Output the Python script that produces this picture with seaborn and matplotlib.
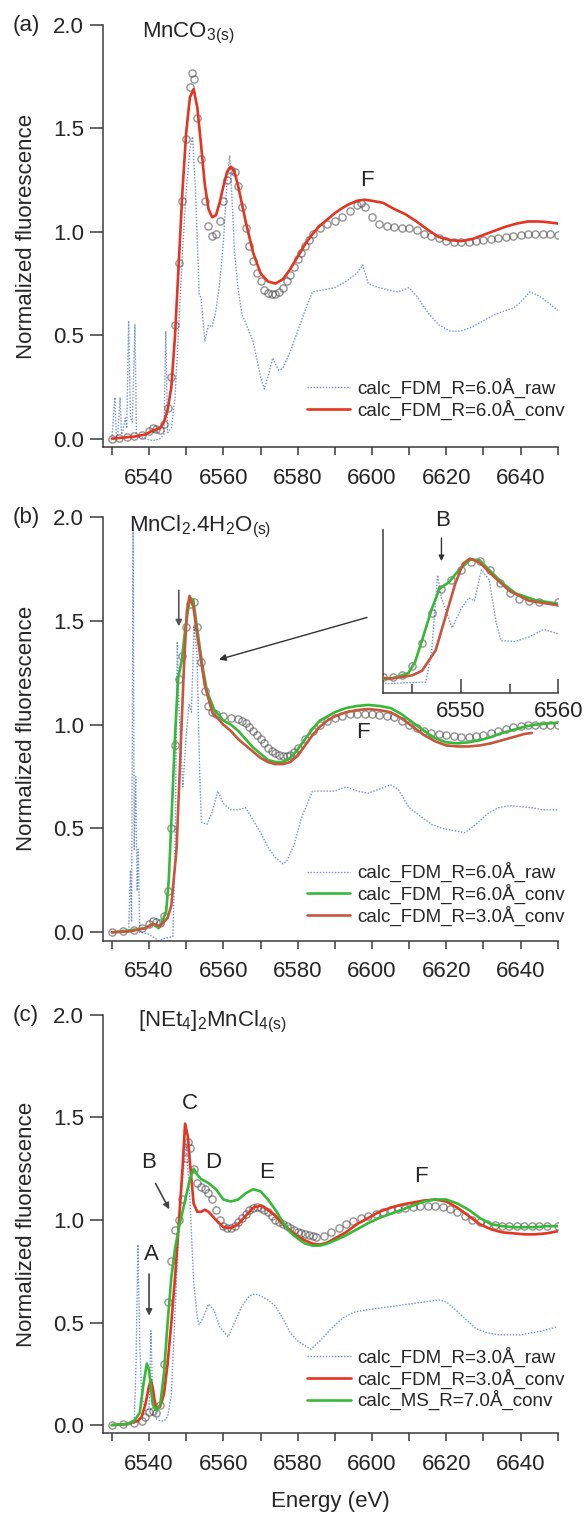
import numpy as np
import pandas as pd
import matplotlib
matplotlib.use("Agg")
import matplotlib.pyplot as plt
from matplotlib.ticker import FixedLocator
import seaborn as sns

# -- DATA --

# (a) MnCO3
a_exp_e = [6530, 6532, 6534, 6536, 6538, 6540, 6541, 6542, 6543, 6544, 6545, 6546, 6547, 6548, 6549,
           6550, 6551, 6551.5, 6552, 6553, 6554, 6555, 6556, 6557, 6558, 6559, 6560, 6561, 6562, 6563,
           6564, 6565, 6566, 6567, 6568, 6569, 6570, 6571, 6572, 6573, 6574, 6575, 6576, 6577, 6578,
           6579, 6580, 6581, 6582, 6583, 6584, 6586, 6588, 6590, 6592, 6594, 6596, 6597, 6598, 6600,
           6602, 6604, 6606, 6608, 6610, 6612, 6614, 6616, 6618, 6620, 6622, 6624, 6626, 6628, 6630,
           6632, 6634, 6636, 6638, 6640, 6642, 6644, 6646, 6648, 6650]
a_exp_y = [0.0, 0.005, 0.01, 0.015, 0.02, 0.035, 0.05, 0.045, 0.04, 0.07, 0.15, 0.3, 0.55, 0.85, 1.15,
           1.45, 1.7, 1.77, 1.74, 1.55, 1.35, 1.15, 1.03, 0.98, 0.99, 1.05, 1.15, 1.25, 1.3, 1.29,
           1.22, 1.12, 1.02, 0.93, 0.86, 0.8, 0.76, 0.72, 0.705, 0.70, 0.70, 0.71, 0.73, 0.76, 0.79,
           0.83, 0.87, 0.9, 0.93, 0.96, 0.99, 1.02, 1.04, 1.05, 1.07, 1.1, 1.13, 1.14, 1.12, 1.07,
           1.04, 1.03, 1.025, 1.02, 1.02, 1.01, 0.99, 0.98, 0.97, 0.955, 0.95, 0.95, 0.95, 0.955, 0.96,
           0.965, 0.97, 0.975, 0.98, 0.985, 0.99, 0.99, 0.99, 0.99, 0.985]

a_raw_e = [6530, 6530.8, 6531.2, 6531.6, 6532.2, 6532.6, 6533, 6533.6, 6534, 6534.5, 6535, 6535.5,
           6536.2, 6536.6, 6537, 6539, 6541, 6543, 6544, 6544.5, 6545, 6546, 6547, 6548, 6549, 6550,
           6551, 6551.7, 6552.5, 6553, 6553.5, 6554, 6555, 6556, 6557, 6558, 6559, 6560, 6561, 6561.7,
           6562.5, 6563, 6564, 6565, 6566, 6568, 6570, 6571, 6572, 6573.3, 6574, 6575, 6576, 6578,
           6580, 6582, 6584, 6587, 6590, 6593, 6596, 6597.5, 6599, 6601, 6604, 6607, 6610, 6612, 6615,
           6618, 6621, 6624, 6627, 6630, 6633, 6636, 6638, 6640, 6642.5, 6645, 6648, 6650]
a_raw_y = [0.0, 0.2, 0.01, 0.02, 0.2, 0.02, 0.04, 0.1, 0.05, 0.57, 0.1, 0.08,
           0.55, 0.02, 0.01, 0.0, -0.01, 0.0, 0.02, 0.52, 0.03, 0.05, 0.2, 0.55, 0.9, 1.2,
           1.4, 1.46, 1.2, 0.95, 0.7, 0.68, 0.47, 0.55, 0.54, 0.62, 0.75, 0.95, 1.25, 1.37,
           1.1, 0.9, 0.72, 0.6, 0.56, 0.47, 0.3, 0.24, 0.3, 0.39, 0.36, 0.33, 0.34, 0.42,
           0.52, 0.62, 0.71, 0.72, 0.73, 0.76, 0.8, 0.84, 0.75, 0.735, 0.72, 0.71, 0.73, 0.69, 0.61,
           0.55, 0.52, 0.52, 0.54, 0.57, 0.6, 0.62, 0.63, 0.66, 0.71, 0.69, 0.65, 0.62]

a_conv_e = [6530, 6533, 6536, 6539, 6541, 6543, 6544, 6545, 6546, 6547, 6548, 6549, 6550, 6551, 6552,
            6553, 6554, 6555, 6556, 6557, 6558, 6559, 6560, 6561, 6562, 6563, 6564, 6566, 6568, 6570,
            6572, 6574, 6576, 6578, 6580, 6582, 6584, 6586, 6588, 6590, 6592, 6594, 6596, 6598, 6600,
            6603, 6606, 6609, 6612, 6615, 6618, 6621, 6624, 6627, 6630, 6633, 6636, 6639, 6642, 6645,
            6648, 6650]
a_conv_y = [0.0, 0.005, 0.01, 0.02, 0.04, 0.05, 0.08, 0.14, 0.25, 0.5, 0.85, 1.2, 1.48, 1.65, 1.69,
            1.6, 1.42, 1.23, 1.11, 1.07, 1.08, 1.14, 1.22, 1.29, 1.315, 1.29, 1.22, 1.05, 0.9, 0.8,
            0.76, 0.75, 0.77, 0.82, 0.88, 0.94, 0.99, 1.03, 1.06, 1.09, 1.115, 1.135, 1.15, 1.155, 1.15,
            1.14, 1.11, 1.085, 1.05, 1.01, 0.975, 0.96, 0.955, 0.965, 0.985, 1.005, 1.025, 1.04, 1.05, 1.05,
            1.045, 1.04]

# (b) MnCl2.4H2O
b_exp_e = [6530, 6533, 6536, 6538, 6540, 6541, 6542, 6543, 6544, 6545, 6546, 6547, 6548, 6549, 6550,
           6551, 6552, 6553, 6554, 6555, 6556, 6557, 6558, 6560, 6562, 6564, 6565, 6566, 6567, 6568,
           6569, 6570, 6571, 6572, 6573, 6574, 6575, 6576, 6577, 6578, 6579, 6580, 6582, 6584, 6586,
           6588, 6590, 6592, 6594, 6596, 6598, 6600, 6602, 6604, 6606, 6608, 6610, 6612, 6614, 6616,
           6618, 6620, 6622, 6624, 6626, 6628, 6630, 6632, 6634, 6636, 6638, 6640, 6642, 6644, 6646,
           6648, 6650]
b_exp_y = [0.0, 0.005, 0.01, 0.02, 0.04, 0.055, 0.05, 0.045, 0.08, 0.2, 0.5, 0.9, 1.22, 1.33, 1.47,
           1.58, 1.59, 1.47, 1.3, 1.16, 1.09, 1.06, 1.05, 1.04, 1.03, 1.025, 1.02, 1.01, 0.99, 0.97,
           0.95, 0.93, 0.91, 0.89, 0.875, 0.865, 0.855, 0.85, 0.85, 0.855, 0.87, 0.89, 0.93, 0.97, 1.0,
           1.02, 1.03, 1.04, 1.05, 1.05, 1.05, 1.05, 1.045, 1.04, 1.035, 1.02, 1.0, 0.985, 0.97, 0.96,
           0.955, 0.95, 0.945, 0.94, 0.94, 0.945, 0.95, 0.96, 0.97, 0.98, 0.99, 0.995, 1.0, 1.0, 1.0,
           1.0, 1.0]

b_raw_e = [6530, 6533, 6534.5, 6535, 6535.3, 6535.7, 6536, 6536.4, 6536.8, 6537.1, 6537.5, 6538, 6540,
           6542.6, 6544, 6546.4, 6547, 6547.6, 6548, 6549.1, 6550, 6550.8, 6551.4, 6552.1, 6552.9,
           6553.6, 6554.1, 6555.6, 6557, 6558.5, 6560, 6562, 6564, 6566, 6568, 6570, 6572, 6574, 6576,
           6577, 6579, 6581, 6584, 6587, 6590, 6593, 6596, 6599, 6602, 6605, 6607, 6610, 6613, 6616,
           6619, 6622, 6625, 6628, 6631, 6634, 6637, 6640, 6643, 6646, 6650]
b_raw_y = [0.0, 0.0, 0.0, 0.3, 0.05, 1.98, 0.4, 0.75, 0.2, 0.4, 0.0, 0.0, -0.01,
           -0.04, -0.03, -0.02, 0.4, 1.4, 1.1, 0.7, 0.95, 1.1, 1.06, 1.47, 1.34,
           0.78, 0.53, 0.52, 0.58, 0.68, 0.62, 0.59, 0.59, 0.6, 0.54, 0.48, 0.41, 0.36, 0.33,
           0.34, 0.42, 0.55, 0.68, 0.68, 0.68, 0.7, 0.68, 0.67, 0.69, 0.71, 0.69, 0.6, 0.56, 0.52,
           0.5, 0.49, 0.48, 0.52, 0.57, 0.6, 0.61, 0.605, 0.6, 0.59, 0.59]

b_conv6_e = [6530, 6535, 6539, 6541, 6542.6, 6543.5, 6544.6, 6545.3, 6546, 6547, 6547.8, 6548.8, 6549.8,
             6551, 6551.9, 6552.9, 6554.3, 6555.6, 6557.6, 6560, 6562, 6564, 6566, 6568, 6570, 6572,
             6574, 6576, 6578, 6580, 6582, 6584, 6586, 6588, 6590, 6593, 6596, 6599, 6602, 6605, 6608,
             6611, 6614, 6617, 6620, 6623, 6626, 6629, 6632, 6635, 6638, 6641, 6644, 6647, 6650]
b_conv6_y = [0.0, 0.01, 0.02, 0.04, 0.02, 0.05, 0.1, 0.25, 0.53, 0.95, 1.22, 1.31, 1.47,
             1.61, 1.6, 1.47, 1.29, 1.16, 1.07, 1.02, 1.0, 0.97, 0.93, 0.89, 0.86, 0.83,
             0.82, 0.82, 0.84, 0.88, 0.93, 0.98, 1.02, 1.04, 1.06, 1.08, 1.09, 1.095, 1.09, 1.08, 1.05,
             1.01, 0.97, 0.935, 0.915, 0.91, 0.915, 0.925, 0.94, 0.96, 0.975, 0.99, 1.0, 1.005, 1.01]

b_conv3_e = [6530, 6535, 6539, 6541, 6543, 6545, 6546, 6547.4, 6548.4, 6549.4, 6550.2, 6550.9, 6551.9,
             6553.3, 6555, 6557, 6560, 6562, 6564, 6566, 6568, 6570, 6572, 6574, 6576, 6578, 6580,
             6582, 6584, 6586, 6588, 6590, 6593, 6596, 6599, 6602, 6605, 6608, 6611, 6614, 6617, 6620,
             6623, 6626, 6629, 6632, 6635, 6638, 6641, 6643]
b_conv3_y = [0.0, 0.005, 0.02, 0.04, 0.03, 0.07, 0.13, 0.4, 0.84, 1.28, 1.55, 1.62, 1.57,
             1.39, 1.19, 1.06, 1.0, 0.97, 0.93, 0.9, 0.87, 0.84, 0.82, 0.81, 0.81, 0.82, 0.85,
             0.9, 0.95, 0.99, 1.02, 1.04, 1.06, 1.07, 1.075, 1.07, 1.06, 1.03, 0.99, 0.95, 0.92, 0.9,
             0.895, 0.895, 0.9, 0.91, 0.925, 0.94, 0.955, 0.96]

# (c) [NEt4]2MnCl4
c_exp_e = [6530, 6533, 6536, 6538, 6539, 6540, 6541, 6542, 6543, 6544, 6545, 6546, 6547, 6548, 6549,
           6550, 6550.5, 6551, 6552, 6553, 6554, 6555, 6556, 6557, 6558, 6559, 6560, 6561, 6562, 6563,
           6564, 6565, 6566, 6567, 6568, 6569, 6570, 6571, 6572, 6573, 6574, 6575, 6576, 6577, 6578,
           6579, 6580, 6581, 6582, 6583, 6584, 6585, 6587, 6589, 6591, 6593, 6595, 6597, 6599, 6601,
           6603, 6605, 6607, 6609, 6611, 6613, 6615, 6617, 6619, 6621, 6623, 6625, 6627, 6629, 6631,
           6633, 6635, 6637, 6639, 6641, 6643, 6645, 6647, 6650]
c_exp_y = [0.0, 0.005, 0.01, 0.02, 0.04, 0.065, 0.07, 0.06, 0.1, 0.3, 0.6, 0.8, 0.95, 1.0, 1.1,
           1.3, 1.38, 1.35, 1.25, 1.18, 1.16, 1.15, 1.13, 1.1, 1.05, 1.0, 0.97, 0.96, 0.96, 0.97,
           0.99, 1.01, 1.03, 1.05, 1.06, 1.065, 1.06, 1.05, 1.04, 1.02, 1.0, 0.99, 0.98, 0.97, 0.96,
           0.95, 0.94, 0.935, 0.93, 0.925, 0.92, 0.915, 0.92, 0.94, 0.96, 0.98, 0.995, 1.01, 1.02, 1.03,
           1.04, 1.05, 1.055, 1.06, 1.065, 1.07, 1.07, 1.07, 1.065, 1.055, 1.04, 1.02, 1.0, 0.99, 0.98,
           0.975, 0.97, 0.97, 0.97, 0.97, 0.97, 0.97, 0.97, 0.97]

c_raw_e = [6530, 6534, 6536, 6536.5, 6537, 6537.5, 6538, 6539, 6540, 6540.5, 6541, 6542, 6543, 6544,
           6545, 6546, 6547, 6548, 6549, 6550, 6551, 6552, 6553, 6553.5, 6554.5, 6556, 6557.5, 6559,
           6561.3, 6563, 6565, 6567, 6568.5, 6570, 6572, 6574, 6576, 6578, 6580, 6583.5, 6586, 6589,
           6592, 6595, 6598, 6602, 6606, 6610, 6614, 6618, 6620, 6622, 6625, 6628, 6631, 6634, 6637,
           6640, 6643, 6646, 6650]
c_raw_y = [0.0, 0.0, 0.01, 0.3, 0.88, 0.4, 0.15, 0.07, 0.08, 0.46, 0.12, 0.03, 0.02, 0.02,
           0.04, 0.15, 0.55, 0.95, 1.2, 1.37, 1.1, 0.7, 0.52, 0.49, 0.52, 0.59, 0.56, 0.48,
           0.43, 0.5, 0.58, 0.63, 0.64, 0.63, 0.61, 0.58, 0.52, 0.45, 0.41, 0.37, 0.41, 0.47,
           0.52, 0.55, 0.56, 0.57, 0.58, 0.59, 0.6, 0.61, 0.6, 0.57, 0.52, 0.47, 0.45, 0.44, 0.44,
           0.44, 0.45, 0.46, 0.48]

c_fdm_e = [6530, 6534, 6537, 6538, 6539, 6540, 6540.5, 6541, 6541.5, 6542, 6543, 6544, 6545, 6546,
           6547, 6548, 6549, 6549.7, 6550.5, 6551, 6552, 6553, 6554, 6555, 6556, 6558, 6560, 6562,
           6564, 6566, 6568, 6570, 6572, 6574, 6576, 6578, 6580, 6582, 6584, 6586, 6588, 6590, 6593,
           6596, 6599, 6602, 6605, 6608, 6611, 6614, 6617, 6620, 6623, 6626, 6629, 6632, 6635, 6638,
           6641, 6644, 6647, 6650]
c_fdm_y = [0.0, 0.005, 0.02, 0.04, 0.1, 0.19, 0.22, 0.18, 0.12, 0.08, 0.09, 0.15, 0.3, 0.5,
           0.72, 0.98, 1.25, 1.47, 1.4, 1.28, 1.08, 1.04, 1.04, 1.05, 1.04, 1.0, 0.965, 0.96,
           0.98, 1.02, 1.06, 1.07, 1.05, 1.02, 0.98, 0.95, 0.92, 0.9, 0.885, 0.88, 0.89, 0.91, 0.94,
           0.98, 1.01, 1.04, 1.06, 1.075, 1.085, 1.095, 1.1, 1.09, 1.06, 1.02, 0.98, 0.955, 0.94, 0.935,
           0.93, 0.93, 0.935, 0.945]

c_ms_e = [6530, 6534, 6536, 6537.5, 6538.5, 6539.4, 6540, 6540.5, 6541, 6542, 6543, 6544, 6545, 6546,
          6547, 6548, 6549, 6550, 6551, 6552, 6553, 6554, 6556, 6558, 6560, 6562, 6564, 6566, 6568,
          6570, 6572, 6574, 6576, 6578, 6580, 6582, 6584, 6586, 6588, 6590, 6593, 6596, 6599, 6602,
          6605, 6608, 6611, 6614, 6617, 6620, 6623, 6626, 6629, 6632, 6635, 6638, 6641, 6644, 6647,
          6650]
c_ms_y = [0.0, 0.005, 0.02, 0.06, 0.2, 0.3, 0.27, 0.18, 0.1, 0.07, 0.1, 0.25, 0.5, 0.72,
          0.86, 0.96, 1.04, 1.12, 1.2, 1.25, 1.22, 1.2, 1.18, 1.15, 1.1, 1.09, 1.1, 1.13, 1.15,
          1.14, 1.1, 1.05, 0.99, 0.94, 0.91, 0.885, 0.875, 0.875, 0.885, 0.9, 0.925, 0.955, 0.985, 1.01,
          1.03, 1.05, 1.07, 1.09, 1.1, 1.1, 1.08, 1.05, 1.01, 0.98, 0.97, 0.965, 0.965, 0.965, 0.97,
          0.97]

x_major = [6540, 6560, 6580, 6600, 6620, 6640]
x_minor = [6530, 6550, 6570, 6590, 6610, 6630, 6650]
y_ticks = [0.0, 0.5, 1.0, 1.5, 2.0]

# -- STYLE --
sns.set_theme(style="ticks")
plt.rcParams['font.family'] = ['Liberation Sans', 'DejaVu Sans']
plt.rcParams['mathtext.fontset'] = 'custom'
plt.rcParams['mathtext.rm'] = 'Liberation Sans'
plt.rcParams['mathtext.it'] = 'Liberation Sans'

RAW = '#6f8fe0'
EXP = '#3c3c3c'
RED = '#e5341f'
RED_B = '#c8553c'
GREEN = '#36b936'
AXC = '#3a3a3a'
FS = 16


def draw_exp(ax, e, y):
    sns.lineplot(x=e, y=y, ax=ax, estimator=None, sort=False, linestyle='none', marker='o',
                 markersize=5.2, markerfacecolor='none', markeredgecolor=EXP, markeredgewidth=1.0,
                 alpha=0.55, zorder=2)


def draw_raw(ax, e, y, label):
    sns.lineplot(x=e, y=y, ax=ax, estimator=None, sort=False, color=RAW, lw=1.0,
                 linestyle=(0, (1, 1.2)), zorder=1, label=label)


def draw_conv(ax, e, y, color, label):
    sns.lineplot(x=e, y=y, ax=ax, estimator=None, sort=False, color=color, lw=1.9,
                 zorder=3, label=label)


def style_axes(ax):
    ax.set_xlim(6527.5, 6650)
    ax.set_ylim(-0.04, 2.0)
    for s in ['top', 'right']:
        ax.spines[s].set_visible(False)
    for s in ['left', 'bottom']:
        ax.spines[s].set_color(AXC)
        ax.spines[s].set_linewidth(1.1)
    ax.xaxis.set_major_locator(FixedLocator(x_major))
    ax.xaxis.set_minor_locator(FixedLocator(x_minor))
    ax.set_yticks(y_ticks)
    ax.set_yticklabels([f"{v:.1f}" for v in y_ticks])
    ax.tick_params(axis='x', which='both', direction='out', length=6, width=1.1,
                   color=AXC, labelsize=FS, pad=9)
    ax.tick_params(axis='y', direction='out', length=9.5, width=1.1, color=AXC,
                   labelsize=FS, pad=4)
    ax.set_xlabel('')
    ax.set_ylabel('Normalized fluorescence', fontsize=FS)
    ax.yaxis.set_label_coords(-0.144, 0.5)
    ax.grid(False)


def legend(ax, y0):
    leg = ax.legend(loc='lower right', bbox_to_anchor=(1.015, y0), frameon=False,
                    fontsize=13.5, handlelength=2.3, handletextpad=0.35, labelspacing=0.08,
                    borderpad=0, borderaxespad=0)
    return leg


fig = plt.figure(figsize=(5.85, 15.13), dpi=100)
ax_a = fig.add_axes([0.1754, 0.7046, 0.778, 0.2789])
ax_b = fig.add_axes([0.1754, 0.3783, 0.778, 0.2800])
ax_c = fig.add_axes([0.1754, 0.0527, 0.778, 0.2765])

# ---- (a) ----
draw_raw(ax_a, a_raw_e, a_raw_y, 'calc_FDM_R=6.0Å_raw')
draw_exp(ax_a, a_exp_e, a_exp_y)
draw_conv(ax_a, a_conv_e, a_conv_y, RED, 'calc_FDM_R=6.0Å_conv')
style_axes(ax_a)
legend(ax_a, 0.065)
ax_a.text(0.087, 0.981, r'MnCO$_{3(s)}$', transform=ax_a.transAxes, fontsize=FS,
          ha='left', va='center')
ax_a.text(6598.7, 1.25, 'F', fontsize=FS, ha='center', va='center')

# ---- (b) ----
draw_raw(ax_b, b_raw_e, b_raw_y, 'calc_FDM_R=6.0Å_raw')
draw_exp(ax_b, b_exp_e, b_exp_y)
draw_conv(ax_b, b_conv6_e, b_conv6_y, GREEN, 'calc_FDM_R=6.0Å_conv')
draw_conv(ax_b, b_conv3_e, b_conv3_y, RED_B, 'calc_FDM_R=3.0Å_conv')
style_axes(ax_b)
legend(ax_b, 0.035)
ax_b.text(0.058, 0.976, r'MnCl$_2$.4H$_2$O$_{(s)}$', transform=ax_b.transAxes, fontsize=FS,
          ha='left', va='center')
ax_b.text(6597.7, 0.96, 'F', fontsize=FS, ha='center', va='center')
ax_b.annotate('', xy=(6548, 1.46), xytext=(6548, 1.66),
              arrowprops=dict(arrowstyle='-|>', color='#555555', lw=1.2, mutation_scale=9))
ax_b.annotate('', xy=(6558.1, 1.31), xytext=(6599.4, 1.52),
              arrowprops=dict(arrowstyle='-|>', color='#333333', lw=1.0, mutation_scale=10))

# inset
ax_in = fig.add_axes([0.6547, 0.5422, 0.2997, 0.1075])
draw_raw(ax_in, b_raw_e, b_raw_y, None)
draw_exp(ax_in, b_exp_e, b_exp_y)
draw_conv(ax_in, b_conv6_e, b_conv6_y, GREEN, None)
draw_conv(ax_in, b_conv3_e, b_conv3_y, RED_B, None)
ax_in.set_xlim(6542, 6560)
ax_in.set_ylim(-0.16, 2.0)
ax_in.patch.set_alpha(0)
for s in ['top', 'right']:
    ax_in.spines[s].set_visible(False)
for s in ['left', 'bottom']:
    ax_in.spines[s].set_color(AXC)
    ax_in.spines[s].set_linewidth(1.1)
ax_in.set_yticks([])
ax_in.xaxis.set_major_locator(FixedLocator([6550, 6560]))
ax_in.xaxis.set_minor_locator(FixedLocator([6545, 6555]))
ax_in.tick_params(axis='x', which='major', direction='in', length=10, width=1.1, color=AXC,
                  labelsize=FS, pad=6)
ax_in.tick_params(axis='x', which='minor', direction='in', length=6.5, width=1.1, color=AXC)
ax_in.set_xlabel('')
ax_in.set_ylabel('')
ax_in.grid(False)
if ax_in.get_legend() is not None:
    ax_in.get_legend().remove()
ax_in.text(6548.1, 2.13, 'B', fontsize=FS, ha='center', va='center', clip_on=False)
ax_in.annotate('', xy=(6548, 1.55), xytext=(6548, 1.93),
               arrowprops=dict(arrowstyle='-|>', color='#333333', lw=1.0, mutation_scale=8),
               annotation_clip=False)

# ---- (c) ----
draw_raw(ax_c, c_raw_e, c_raw_y, 'calc_FDM_R=3.0Å_raw')
draw_exp(ax_c, c_exp_e, c_exp_y)
draw_conv(ax_c, c_fdm_e, c_fdm_y, RED, 'calc_FDM_R=3.0Å_conv')
draw_conv(ax_c, c_ms_e, c_ms_y, GREEN, 'calc_MS_R=7.0Å_conv')
style_axes(ax_c)
legend(ax_c, 0.055)
ax_c.text(0.078, 0.983, r'[NEt$_4$]$_2$MnCl$_{4(s)}$', transform=ax_c.transAxes, fontsize=FS,
          ha='left', va='center')
for lab, xe, ye in [('A', 6540.5, 0.83), ('B', 6540, 1.28), ('C', 6551, 1.57),
                    ('D', 6557.2, 1.28), ('E', 6571.6, 1.23), ('F', 6613.2, 1.21)]:
    ax_c.text(xe, ye, lab, fontsize=FS, ha='center', va='center')
ax_c.annotate('', xy=(6540, 0.52), xytext=(6540, 0.75),
              arrowprops=dict(arrowstyle='-|>', color='#444444', lw=1.2, mutation_scale=9))
ax_c.annotate('', xy=(6545.8, 1.04), xytext=(6541.4, 1.19),
              arrowprops=dict(arrowstyle='-|>', color='#444444', lw=1.2, mutation_scale=9))
ax_c.set_xlabel('Energy (eV)', fontsize=FS, va='top')
ax_c.xaxis.set_label_coords(0.5, -0.138)

# panel letters
for lab, yf in [('(a)', 1 - 25 / 1513), ('(b)', 1 - 517 / 1513), ('(c)', 1 - 1015 / 1513)]:
    fig.text(0.022, yf, lab, fontsize=FS, ha='left', va='center')

fig.savefig('out.png', dpi=100)
